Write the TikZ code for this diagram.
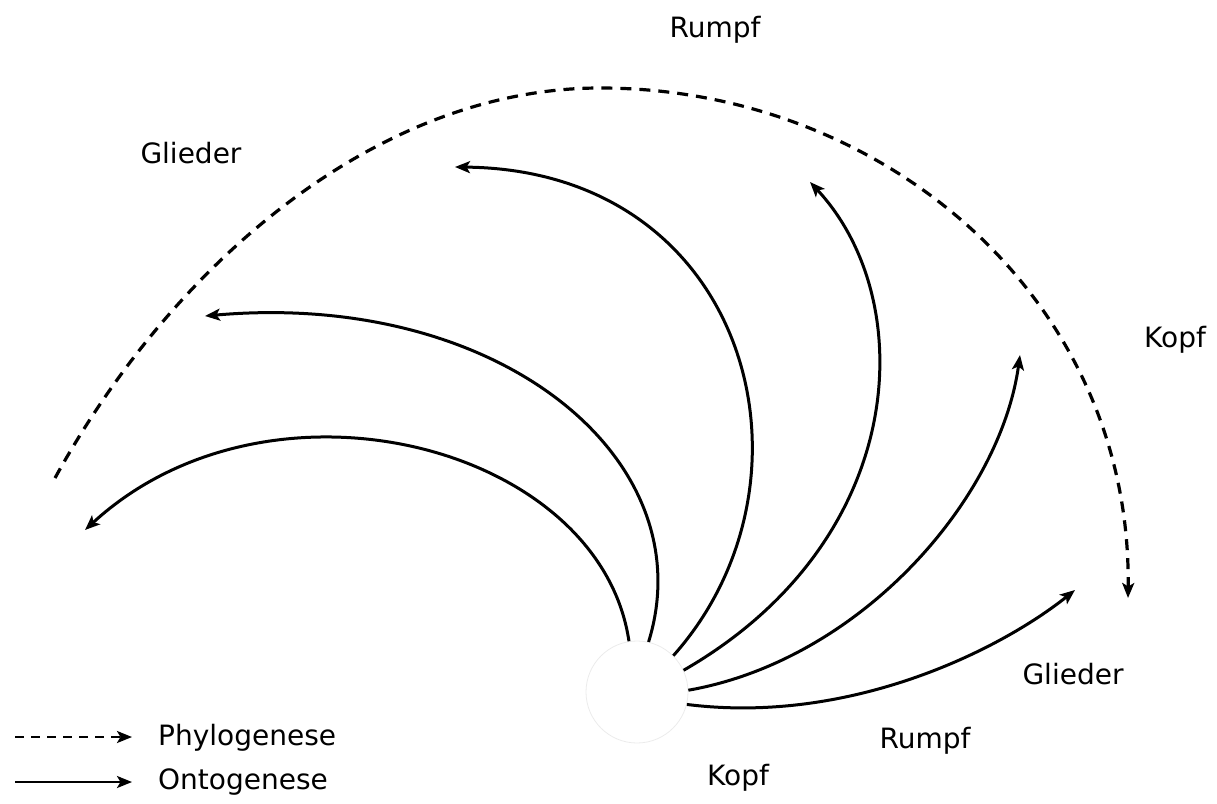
\documentclass[tikz,border=0pt]{standalone}
\usepackage{fontspec}
\setmainfont{DejaVu Sans}
\usetikzlibrary{arrows.meta}
\tikzset{
  tip/.tip={Stealth[length=15pt,width=12pt,inset=3.5pt]},
  onto/.style={line width=3pt,-tip},
  phylo/.style={line width=3.2pt,dash pattern=on 11pt off 8pt,-tip},
  lbl/.style={font=\fontsize{28}{32}\selectfont,inner sep=0pt},
  cell/.style={circle,draw=black!8,line width=0.8pt,minimum size=102pt,inner sep=0pt}
}
\begin{document}
\begin{tikzpicture}[x=1pt,y=-1pt]
\useasboundingbox (0,0) rectangle (1217,803);

% egg cell
\node[cell] (c) at (637,692) {};

% end points of the developmental arrows
\coordinate (e1) at (85,530);
\coordinate (e2) at (205,316);
\coordinate (e3) at (455,167);
\coordinate (e4) at (810,182);
\coordinate (e5) at (1020,355);
\coordinate (e6) at (1075,590);
\coordinate (p0) at (55,478);
\coordinate (ptop) at (600,88);
\coordinate (p1) at (1128,598);

% ontogenese
\draw[onto] (c.99) .. controls (600,445) and (270,360) .. (e1);
\draw[onto] (c.77) .. controls (705,460) and (500,290) .. (e2);
\draw[onto] (c.45) .. controls (830,480) and (750,170) .. (e3);
\draw[onto] (c.25) .. controls (910,540) and (920,300) .. (e4);
\draw[onto] (c.2) .. controls (860,660) and (1000,500) .. (e5);
\draw[onto] (c.-14) .. controls (850,725) and (1000,650) .. (e6);

% phylogenese
\draw[phylo] (p0) .. controls (175,260) and (380,88) .. (ptop)
  .. controls (885,88) and (1132,300) .. (p1);

% labels
\node[lbl] (r1) at (715,30) {Rumpf};
\node[lbl] (g1) at (191,153) {Glieder};
\node[lbl] (k1) at (1175,340) {Kopf};
\node[lbl] (g2) at (1073,674) {Glieder};
\node[lbl] (r2) at (925,741) {Rumpf};
\node[lbl] (k2) at (738,778) {Kopf};

% legend
\coordinate (l1a) at (15,737);
\coordinate (l1b) at (132,737);
\coordinate (l2a) at (15,782);
\coordinate (l2b) at (132,782);
\draw[phylo,line width=2.4pt,dash pattern=on 9pt off 7pt] (l1a) -- (l1b);
\draw[onto,line width=2.4pt] (l2a) -- (l2b);
\node[lbl,anchor=west] (t1) at (158,738) {Phylogenese};
\node[lbl,anchor=west] (t2) at (158,782) {Ontogenese};
\end{tikzpicture}
\end{document}
